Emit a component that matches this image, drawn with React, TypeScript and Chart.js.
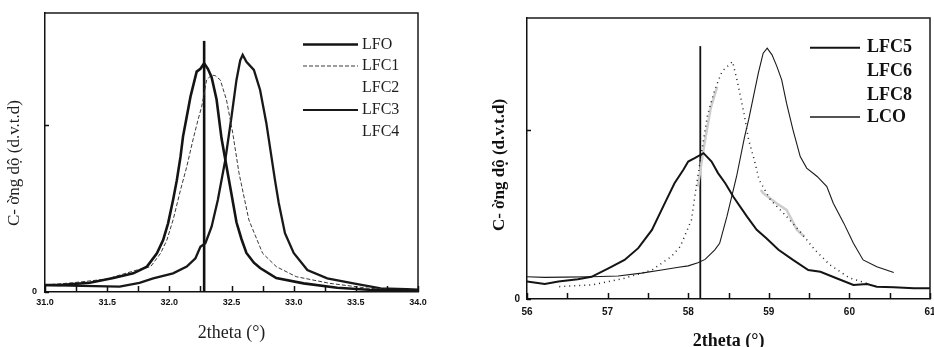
import React, { useEffect, useRef } from 'react';
import { Chart, registerables } from 'chart.js';

Chart.register(...registerables);

// ---------------- Left panel data (2theta 31–34°) ----------------
const LEFT_LEGEND = ['LFO', 'LFC1', 'LFC2', 'LFC3', 'LFC4'];

const LFO_X = [31.0, 31.12, 31.36, 31.55, 31.71, 31.82, 31.9, 31.95, 31.99, 32.03, 32.06, 32.09, 32.11, 32.14, 32.17, 32.19, 32.22, 32.25, 32.28, 32.31, 32.34, 32.38, 32.42, 32.46, 32.5, 32.54, 32.58, 32.62, 32.68, 32.73, 32.86, 33.08, 33.35, 33.6, 34.0];
const LFO_Y = [0.025, 0.025, 0.033, 0.05, 0.067, 0.091, 0.139, 0.186, 0.246, 0.33, 0.4, 0.485, 0.557, 0.628, 0.7, 0.736, 0.79, 0.8, 0.82, 0.8, 0.77, 0.69, 0.55, 0.45, 0.35, 0.25, 0.19, 0.14, 0.105, 0.086, 0.05, 0.031, 0.015, 0.008, 0.004];

const LFC1_X = [31.05, 31.22, 31.49, 31.74, 31.85, 31.93, 31.98, 32.03, 32.09, 32.14, 32.19, 32.23, 32.26, 32.3, 32.34, 32.37, 32.41, 32.46, 32.51, 32.56, 32.64, 32.75, 32.86, 33.02, 33.29, 33.61, 33.91, 34.0];
const LFC1_Y = [0.027, 0.033, 0.046, 0.079, 0.091, 0.139, 0.186, 0.258, 0.366, 0.449, 0.545, 0.616, 0.664, 0.76, 0.778, 0.775, 0.76, 0.688, 0.57, 0.427, 0.258, 0.139, 0.091, 0.055, 0.031, 0.013, 0.007, 0.006];

const LFC3_X = [31.0, 31.3, 31.6, 31.76, 31.87, 32.03, 32.14, 32.21, 32.25, 32.29, 32.34, 32.39, 32.45, 32.5, 32.54, 32.57, 32.59, 32.62, 32.68, 32.73, 32.78, 32.85, 32.88, 32.93, 33.0, 33.11, 33.27, 33.48, 33.7, 33.91, 34.0];
const LFC3_Y = [0.025, 0.022, 0.019, 0.033, 0.049, 0.067, 0.091, 0.121, 0.162, 0.175, 0.234, 0.33, 0.473, 0.628, 0.76, 0.83, 0.85, 0.825, 0.796, 0.724, 0.606, 0.4, 0.319, 0.211, 0.14, 0.079, 0.049, 0.031, 0.013, 0.01, 0.008];

const LEFT_MARK_X = [32.28, 32.28];
const LEFT_MARK_Y = [0, 0.9];

// ---------------- Right panel data (2theta 56–61°) ----------------
const RIGHT_LEGEND = ['LFC5', 'LFC6', 'LFC8', 'LCO'];

const LFC5_X = [56.0, 56.22, 56.39, 56.63, 56.8, 57.01, 57.21, 57.38, 57.55, 57.71, 57.83, 57.94, 58.0, 58.08, 58.19, 58.29, 58.37, 58.46, 58.56, 58.73, 58.85, 58.97, 59.12, 59.3, 59.49, 59.64, 59.84, 60.05, 60.22, 60.34, 60.55, 60.8, 61.0];
const LFC5_Y = [0.062, 0.053, 0.062, 0.07, 0.079, 0.109, 0.139, 0.181, 0.246, 0.341, 0.412, 0.46, 0.489, 0.501, 0.519, 0.489, 0.448, 0.412, 0.364, 0.293, 0.246, 0.216, 0.175, 0.139, 0.103, 0.097, 0.074, 0.05, 0.053, 0.044, 0.042, 0.038, 0.038];

const LFC6_X = [56.4, 56.8, 57.21, 57.55, 57.79, 57.9, 58.04, 58.1, 58.17, 58.24, 58.33, 58.42, 58.55, 58.61, 58.69, 58.75, 58.82, 58.88, 59.02, 59.2, 59.39, 59.57, 59.76, 60.0, 60.25];
const LFC6_Y = [0.044, 0.05, 0.074, 0.103, 0.151, 0.186, 0.281, 0.4, 0.53, 0.655, 0.745, 0.81, 0.845, 0.774, 0.663, 0.566, 0.495, 0.424, 0.353, 0.3, 0.239, 0.175, 0.121, 0.075, 0.053];

const LFC8_X = [58.12, 58.2, 58.28, 58.36, 58.6, 58.9, 58.93, 59.1, 59.22, 59.35, 59.44];
const LFC8_Y = [0.4, 0.55, 0.68, 0.756, null, 0.388, 0.377, 0.34, 0.317, 0.246, 0.222];

const LCO_X = [56.0, 56.22, 56.47, 56.8, 57.13, 57.42, 57.67, 57.88, 58.0, 58.12, 58.21, 58.33, 58.39, 58.48, 58.6, 58.7, 58.75, 58.81, 58.87, 58.93, 58.98, 59.04, 59.1, 59.16, 59.22, 59.3, 59.39, 59.47, 59.6, 59.72, 59.8, 59.93, 60.05, 60.17, 60.34, 60.55];
const LCO_Y = [0.079, 0.077, 0.078, 0.079, 0.082, 0.092, 0.103, 0.113, 0.118, 0.129, 0.141, 0.175, 0.198, 0.293, 0.436, 0.578, 0.638, 0.721, 0.804, 0.875, 0.893, 0.869, 0.828, 0.78, 0.697, 0.602, 0.507, 0.466, 0.436, 0.4, 0.341, 0.27, 0.198, 0.139, 0.115, 0.094];

const RIGHT_MARK_X = [58.15, 58.15];
const RIGHT_MARK_Y = [0, 0.9];

// ---------------- Text ----------------
const X_TITLE = '2theta (°)';
const Y_TITLE = 'C- ờng dộ (d.v.t.d)';
const Y_TICKS = [0, 0.6];

const W = 467;
const H = 347;

const pts = (xs: number[], ys: (number | null)[]) => xs.map((x, i) => ({ x, y: ys[i] }));

const decor = {
  id: 'decor',
  afterDraw(chart: any, _a: any, o: any) {
    const { ctx, chartArea: a } = chart;
    const xs = chart.scales.x;
    const ys = chart.scales.y;
    ctx.save();
    ctx.strokeStyle = '#1a1a1a';
    ctx.lineWidth = 1.5;
    ctx.beginPath();
    ctx.moveTo(a.left, a.top);
    ctx.lineTo(a.right, a.top);
    ctx.lineTo(a.right, a.bottom);
    ctx.stroke();

    // inward tick marks from the library's ticks
    ctx.strokeStyle = '#111';
    ctx.lineWidth = 1.5;
    ctx.beginPath();
    xs.ticks.forEach((t: any) => {
      const px = Math.round(xs.getPixelForValue(t.value)) + 0.5;
      ctx.moveTo(px, a.bottom);
      ctx.lineTo(px, a.bottom - o.tickLen);
    });
    ys.ticks.forEach((t: any) => {
      const py = Math.round(ys.getPixelForValue(t.value)) + 0.5;
      ctx.moveTo(a.left, py);
      ctx.lineTo(a.left + 4, py);
    });
    ctx.stroke();

    // legend
    ctx.textAlign = 'left';
    ctx.textBaseline = 'middle';
    ctx.font = o.legendFont;
    o.legend.forEach((label: string, i: number) => {
      const y = o.legendY[i];
      const ds = chart.data.datasets.find((d: any) => d.label === label);
      if (ds && ds.legendLine !== false) {
        ctx.strokeStyle = ds.borderColor;
        ctx.lineWidth = ds.legendWidth || ds.borderWidth;
        ctx.setLineDash(ds.borderDash || []);
        ctx.beginPath();
        ctx.moveTo(o.legendX[0], y);
        ctx.lineTo(o.legendX[1], y);
        ctx.stroke();
        ctx.setLineDash([]);
      }
      ctx.fillStyle = o.textColor;
      ctx.fillText(label, o.legendX[2], y);
    });

    // axis titles
    ctx.fillStyle = o.textColor;
    ctx.textAlign = 'center';
    ctx.font = o.xTitleFont;
    ctx.fillText(o.xTitle, o.xTitlePos[0], o.xTitlePos[1]);
    ctx.translate(o.yTitlePos[0], o.yTitlePos[1]);
    ctx.rotate(-Math.PI / 2);
    ctx.font = o.yTitleFont;
    ctx.fillText(o.yTitle, 0, 0);
    ctx.restore();
  },
};

function line(label: string, xs: number[], ys: (number | null)[], color: string, width: number, dash: number[] = [], extra: any = {}) {
  return {
    label,
    data: pts(xs, ys),
    showLine: true,
    borderColor: color,
    backgroundColor: color,
    borderWidth: width,
    borderDash: dash,
    pointRadius: 0,
    tension: 0,
    spanGaps: false,
    ...extra,
  };
}

function makeConfig(p: any) {
  const tickFont = { family: "'Liberation Sans', Arial, sans-serif", weight: 'bold', size: p.tickSize };
  return {
    type: 'scatter',
    data: { datasets: p.datasets },
    options: {
      responsive: false,
      animation: false,
      devicePixelRatio: 1,
      layout: { autoPadding: false, padding: p.padding },
      plugins: {
        legend: { display: false },
        tooltip: { enabled: false },
        decor: p.decor,
      },
      scales: {
        x: {
          type: 'linear',
          min: p.xMin,
          max: p.xMax,
          afterFit: (s: any) => {
            s.height = p.xHeight;
            s.paddingLeft = 0;
            s.paddingRight = 0;
          },
          afterBuildTicks: (s: any) => {
            const t = [];
            for (let v = p.xMin; v <= p.xMax + 1e-9; v += p.xMinor) t.push({ value: Math.round(v * 100) / 100 });
            s.ticks = t;
          },
          ticks: {
            autoSkip: false,
            maxRotation: 0,
            padding: p.xPad,
            color: '#111',
            font: tickFont,
            callback: (v: number) => {
              const r = v / p.xMajor;
              return Math.abs(r - Math.round(r)) < 1e-6 ? p.fmt(v) : '';
            },
          },
          grid: { drawOnChartArea: false, drawTicks: false },
          border: { display: true, color: '#111', width: 1.5 },
        },
        y: {
          type: 'linear',
          min: 0,
          max: 1,
          afterFit: (s: any) => {
            s.width = p.yWidth;
            s.paddingTop = 0;
            s.paddingBottom = 0;
          },
          afterBuildTicks: (s: any) => { s.ticks = Y_TICKS.map((value) => ({ value })); },
          ticks: {
            padding: p.yPad,
            color: '#111',
            font: tickFont,
            callback: (v: number) => (v === 0 ? '0' : ''),
          },
          grid: { drawOnChartArea: false, drawTicks: false },
          border: { display: true, color: '#111', width: 1.5 },
        },
      },
    },
    plugins: [decor],
  };
}

function leftConfig() {
  return makeConfig({
    datasets: [
      line('LFO', LFO_X, LFO_Y, '#141414', 2.6),
      line('LFC1', LFC1_X, LFC1_Y, '#3a3a3a', 1, [4, 2]),
      line('LFC3', LFC3_X, LFC3_Y, '#181818', 2.3, [], { legendWidth: 2 }),
      line('marker', LEFT_MARK_X, LEFT_MARK_Y, '#111', 2.6),
    ],
    padding: { left: 0, top: 13, right: 49, bottom: 0 },
    xHeight: 55,
    yWidth: 45,
    xMin: 31,
    xMax: 34,
    xMinor: 0.25,
    xMajor: 0.5,
    fmt: (v: number) => v.toFixed(1),
    tickSize: 9,
    xPad: 5,
    yPad: 8,
    decor: {
      tickLen: 6,
      legend: LEFT_LEGEND,
      legendY: [44.5, 66, 88, 110, 131.5],
      legendX: [303, 358, 362],
      legendFont: "16px 'Liberation Serif', 'Times New Roman', serif",
      textColor: '#1e1e1e',
      xTitle: X_TITLE,
      xTitlePos: [231.5, 333],
      xTitleFont: "18px 'Liberation Serif', 'Times New Roman', serif",
      yTitle: Y_TITLE,
      yTitlePos: [15, 163],
      yTitleFont: "17px 'Liberation Serif', 'Times New Roman', serif",
    },
  });
}

function rightConfig() {
  return makeConfig({
    datasets: [
      line('LFC5', LFC5_X, LFC5_Y, '#141414', 2),
      line('LFC6', LFC6_X, LFC6_Y, '#222', 1.5, [1, 4], { legendLine: false }),
      line('LFC8', LFC8_X, LFC8_Y, '#cdcdcd', 2.5, [], { legendLine: false }),
      line('LCO', LCO_X, LCO_Y, '#1a1a1a', 1.1, [], { legendWidth: 1.5 }),
      line('marker', RIGHT_MARK_X, RIGHT_MARK_Y, '#111', 1.8),
    ],
    padding: { left: 0, top: 18, right: 4, bottom: 0 },
    xHeight: 48,
    yWidth: 60,
    xMin: 56,
    xMax: 61,
    xMinor: 0.5,
    xMajor: 1,
    fmt: (v: number) => String(Math.round(v)),
    tickSize: 10,
    xPad: 7,
    yPad: 7,
    decor: {
      tickLen: 6,
      legend: RIGHT_LEGEND,
      legendY: [47.7, 71.7, 95.7, 117],
      legendX: [343, 393, 400],
      legendFont: "bold 18px 'Liberation Serif', 'Times New Roman', serif",
      textColor: '#111',
      xTitle: X_TITLE,
      xTitlePos: [261.7, 341],
      xTitleFont: "bold 18px 'Liberation Serif', 'Times New Roman', serif",
      yTitle: Y_TITLE,
      yTitlePos: [33, 165],
      yTitleFont: "bold 17px 'Liberation Serif', 'Times New Roman', serif",
    },
  });
}

function Panel({ make, left }: { make: () => any; left: number }) {
  const ref = useRef<HTMLCanvasElement | null>(null);
  useEffect(() => {
    const chart = new Chart(ref.current as HTMLCanvasElement, make());
    return () => chart.destroy();
  }, []);
  return (
    <canvas
      ref={ref}
      width={W}
      height={H}
      style={{ position: 'absolute', left, top: 0, width: W, height: H }}
    />
  );
}

export default function App() {
  return (
    <div style={{ position: 'absolute', left: 0, top: 0, width: 934, height: 347, background: '#fff', overflow: 'hidden' }}>
      <Panel make={leftConfig} left={0} />
      <Panel make={rightConfig} left={467} />
    </div>
  );
}
